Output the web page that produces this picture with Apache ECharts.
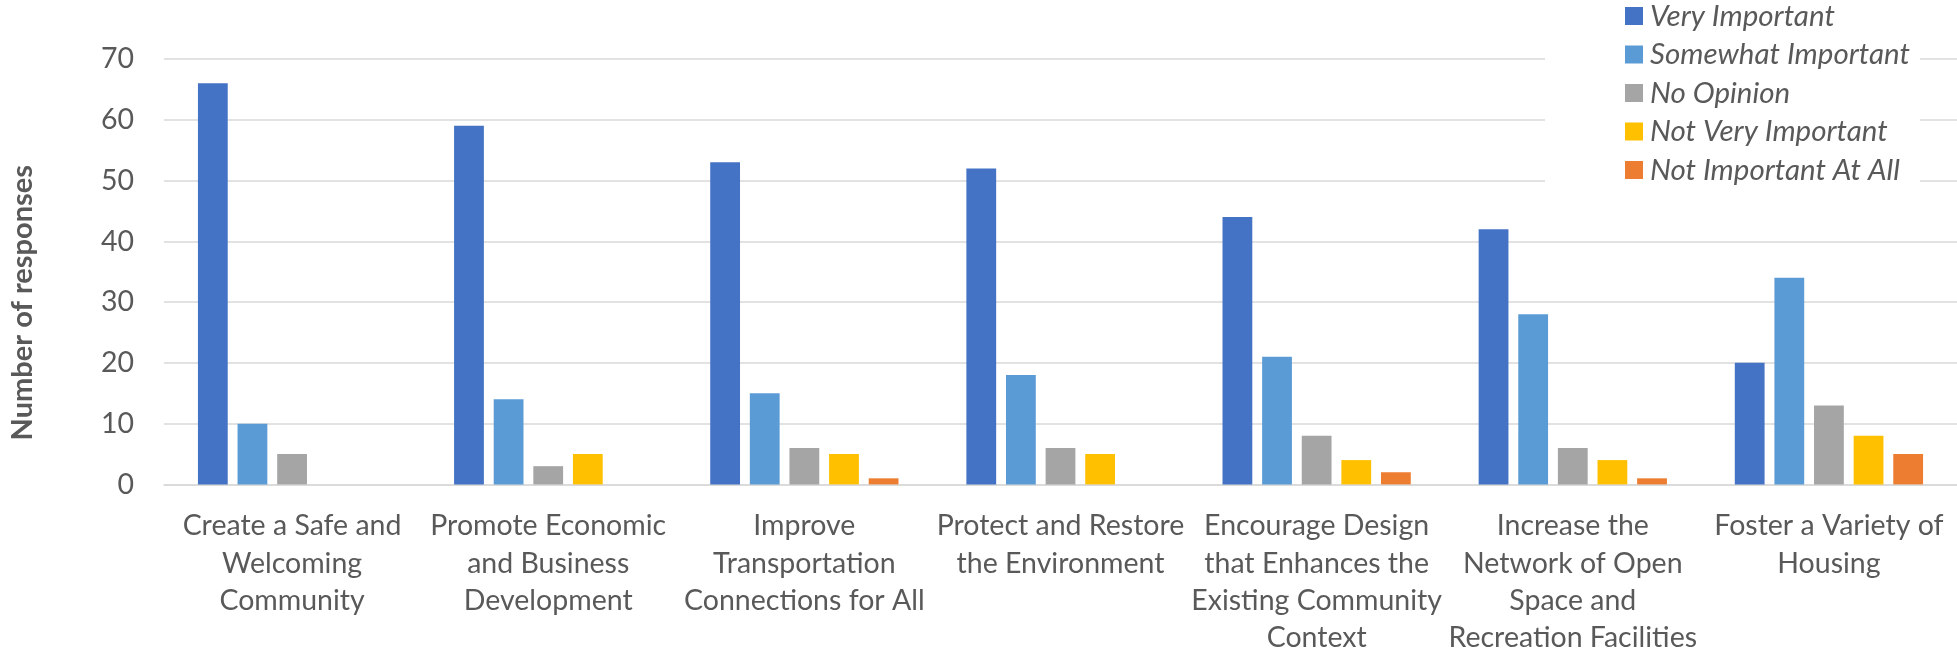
<!DOCTYPE html>
<html>
<head>
<meta charset="utf-8">
<script src="https://cdn.jsdelivr.net/npm/echarts@6/dist/echarts.min.js"></script>
<style>
html,body{margin:0;padding:0;background:#fff;}
#chart{width:1957px;height:657px;}
</style>
</head>
<body>
<div id="chart"></div>
<script>
var categories = [
  "Create a Safe and\nWelcoming\nCommunity",
  "Promote Economic\nand Business\nDevelopment",
  "Improve\nTransportation\nConnections for All",
  "Protect and Restore\nthe Environment",
  "Encourage Design\nthat Enhances the\nExisting Community\nContext",
  "Increase the\nNetwork of Open\nSpace and\nRecreation Facilities",
  "Foster a Variety of\nHousing"
];
var seriesNames = ["Very Important", "Somewhat Important", "No Opinion", "Not Very Important", "Not Important At All"];
var veryImportant      = [66, 59, 53, 52, 44, 42, 20];
var somewhatImportant  = [10, 14, 15, 18, 21, 28, 34];
var noOpinion          = [5, 3, 6, 6, 8, 6, 13];
var notVeryImportant   = [0, 5, 5, 5, 4, 4, 8];
var notImportantAtAll  = [0, 0, 1, 0, 2, 1, 5];
var seriesColors = ["#4472C4", "#5B9BD5", "#A5A5A5", "#FFC000", "#ED7D31"];
var yTicks = { min: 0, max: 70, interval: 10 };
var yAxisTitle = "Number of responses";

var FONT = "Lato";
var TEXT = "#595959";
var allValues = [veryImportant, somewhatImportant, noOpinion, notVeryImportant, notImportantAtAll];

var chart = echarts.init(document.getElementById('chart'), null, {renderer: 'canvas'});
chart.setOption({
  animation: false,
  backgroundColor: '#ffffff',
  textStyle: { fontFamily: FONT, color: TEXT },
  grid: { left: 145, right: 0, top: 59, bottom: 168, containLabel: false },
  legend: {
    orient: 'vertical',
    left: 1545,
    top: 0,
    padding: [1, 10, 3, 80],
    backgroundColor: '#ffffff',
    itemWidth: 18,
    itemHeight: 18,
    itemGap: 8.5,
    icon: 'rect',
    data: seriesNames,
    textStyle: { fontFamily: FONT, fontStyle: 'italic', fontSize: 29.5, lineHeight: 28, color: TEXT, padding: [0, 0, 0, 2] }
  },
  xAxis: {
    type: 'category',
    data: categories,
    axisTick: { show: false },
    axisLine: { lineStyle: { color: '#D9D9D9', width: 1.5 } },
    axisLabel: { interval: 0, margin: 23, fontFamily: FONT, fontSize: 28.5, lineHeight: 37.4, color: TEXT, align: 'center' }
  },
  yAxis: {
    type: 'value',
    min: yTicks.min, max: yTicks.max, interval: yTicks.interval,
    name: yAxisTitle,
    nameLocation: 'middle',
    nameGap: 127,
    nameRotate: 90,
    nameTextStyle: { fontFamily: FONT, fontWeight: 'bold', fontSize: 29, color: TEXT, padding: [0, 62, 0, 0] },
    axisLine: { show: false },
    axisTick: { show: false },
    axisLabel: { margin: 30, fontFamily: FONT, fontSize: 28.5, color: TEXT },
    splitLine: { lineStyle: { color: '#D9D9D9', width: 1.5 } }
  },
  series: seriesNames.map(function (n, i) {
    return {
      name: n,
      type: 'bar',
      data: allValues[i],
      barGap: '33%',
      barCategoryGap: '26.5%',
      itemStyle: { color: seriesColors[i] }
    };
  })
});
</script>
</body>
</html>
